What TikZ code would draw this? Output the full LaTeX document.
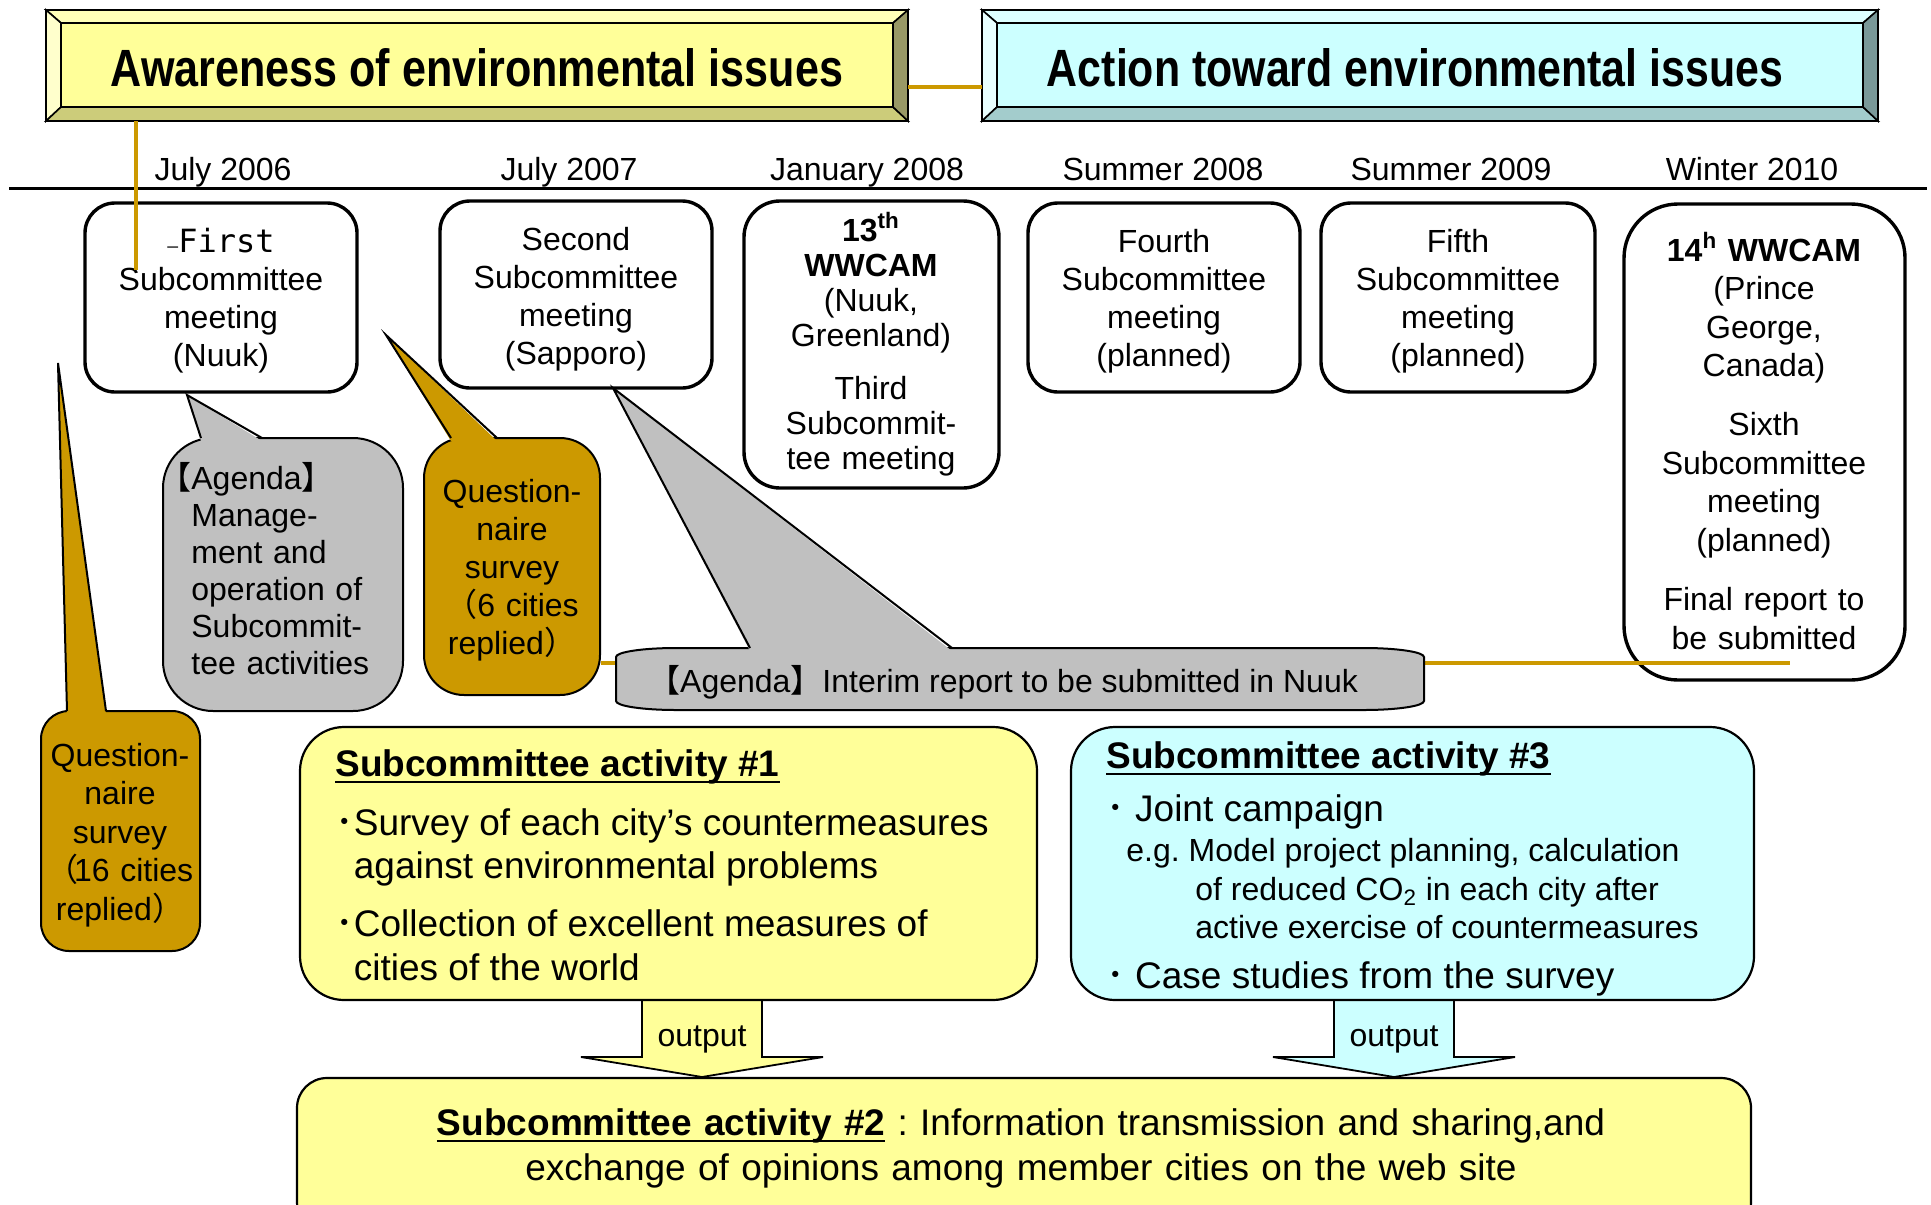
\documentclass[tikz,border=0pt]{standalone}
\usepackage{graphicx}
\usepackage{fontspec}
\setmainfont{Liberation Sans}
\newfontfamily\cjk{Noto Sans CJK JP}
\newfontfamily\monof{DejaVu Sans Mono}
\usetikzlibrary{fit,calc}
\frenchspacing

\definecolor{paleyellow}{HTML}{FFFF99}
\definecolor{palecyan}{HTML}{CCFFFF}
\definecolor{gold}{HTML}{CC9900}
\definecolor{lgray}{HTML}{C0C0C0}
\definecolor{ybevtop}{HTML}{FFFFB8}
\definecolor{ybevleft}{HTML}{FFFFCC}
\definecolor{ybevbot}{HTML}{CCCC7A}
\definecolor{ybevright}{HTML}{999966}
\definecolor{cbevtop}{HTML}{DDFFFF}
\definecolor{cbevleft}{HTML}{E8FFFF}
\definecolor{cbevbot}{HTML}{A3CCCC}
\definecolor{cbevright}{HTML}{7A9999}

\newcommand\fs[2]{\fontsize{#1}{#2}\selectfont}
\newsavebox\ulbox
\newcommand\undl[1]{\sbox\ulbox{#1}\rlap{\rule[-3.5pt]{\wd\ulbox}{1pt}}\usebox\ulbox}

\begin{document}
\begin{tikzpicture}[x=0.5pt,y=-0.5pt,
  tlbox/.style={draw, line width=1.7pt, rounded corners=15pt, fill=white, inner sep=0pt},
  ttext/.style={inner sep=0pt, anchor=base, align=center, text width=130pt, font=\fs{16}{19}},
  datelbl/.style={inner sep=0pt, anchor=base, font=\fs{16}{19}},
  bubble/.style={draw, line width=1pt, inner sep=0pt},
  tip/.style={line width=1pt, line join=miter},
  goldline/.style={draw=gold, line width=2pt},
  actbox/.style={draw, line width=1.1pt, inner sep=0pt, rounded corners=22pt},
  al/.style={inner sep=0pt, anchor=base west, font=\fs{18.5}{22}},
  smal/.style={inner sep=0pt, anchor=base west, font=\fs{16}{19}},
  blockarrow/.style={draw, line width=0.9pt, line join=miter},
  bev/.style={draw, line width=0.8pt, line join=miter}]

\useasboundingbox (0,0) rectangle (1931,1204);
\clip (0,0) rectangle (1931,1204);

% time axis
\draw[line width=1.5pt] (9,188) -- (1927,188);

% bevelled title panels
\node[inner sep=0pt, fit={(46,10) (908,121)}] (aw) {};
\filldraw[bev, fill=ybevtop]   (46,10) -- (908,10) -- (893,23) -- (61,23) -- cycle;
\filldraw[bev, fill=ybevleft]  (46,10) -- (61,23) -- (61,107) -- (46,121) -- cycle;
\filldraw[bev, fill=ybevbot]   (46,121) -- (61,107) -- (893,107) -- (908,121) -- cycle;
\filldraw[bev, fill=ybevright] (908,10) -- (908,121) -- (893,107) -- (893,23) -- cycle;
\filldraw[bev, fill=paleyellow] (61,23) rectangle (893,107);
\node[inner sep=0pt] (awt) at (477,68)
  {\resizebox{366pt}{19pt}{\bfseries Awareness of environmental issues}};

\node[inner sep=0pt, fit={(982,10) (1878,121)}] (ac) {};
\filldraw[bev, fill=cbevtop]   (982,10) -- (1878,10) -- (1863,23) -- (997,23) -- cycle;
\filldraw[bev, fill=cbevleft]  (982,10) -- (997,23) -- (997,107) -- (982,121) -- cycle;
\filldraw[bev, fill=cbevbot]   (982,121) -- (997,107) -- (1863,107) -- (1878,121) -- cycle;
\filldraw[bev, fill=cbevright] (1878,10) -- (1878,121) -- (1863,107) -- (1863,23) -- cycle;
\filldraw[bev, fill=palecyan] (997,23) rectangle (1863,107);
\node[inner sep=0pt] (act) at (1415,68)
  {\resizebox{368pt}{19pt}{\bfseries Action toward environmental issues}};

\coordinate (gy) at (945,87);
\draw[goldline] (aw.east |- gy) -- (ac.west |- gy);

% dates
\node[datelbl] (d1) at (223,180) {July 2006};
\node[datelbl] (d2) at (569,180) {July 2007};
\node[datelbl] (d3) at (867,180) {January 2008};
\node[datelbl] (d4) at (1163,180) {Summer 2008};
\node[datelbl] (d5) at (1451,180) {Summer 2009};
\node[datelbl] (d6) at (1752,180) {Winter 2010};

% meetings
\node[tlbox, fit={(85,203) (357,392)}] (b1) {};
\node[tlbox, fit={(440,201) (712,388)}] (b2) {};
\node[tlbox, rounded corners=18pt, fit={(744,201) (999,488)}] (b3) {};
\node[tlbox, fit={(1028,203) (1300,392)}] (b4) {};
\node[tlbox, fit={(1321,203) (1595,392)}] (b5) {};
\node[tlbox, rounded corners=27pt, fit={(1624,204) (1905,680)}] (b6) {};

\node[ttext] (b1t) at (221,252) {{\monof{\fs{9}{9}–}First}\\Subcommittee\\meeting\\(Nuuk)};
\node[ttext] (b2t) at (576,250) {Second\\Subcommittee\\meeting\\(Sapporo)};
\node[ttext, font=\fs{16}{17.5}] (b3t) at (871,241)
  {\textbf{13\textsuperscript{th}}\\\textbf{WWCAM}\\(Nuuk,\\Greenland)\\[9pt]Third\\Subcommit-\\tee meeting};
\node[ttext] (b4t) at (1164,252) {Fourth\\Subcommittee\\meeting\\(planned)};
\node[ttext] (b5t) at (1458,252) {Fifth\\Subcommittee\\meeting\\(planned)};
\node[ttext, font=\fs{16}{19.3}] (b6t) at (1764,261)
  {\textbf{14\textsuperscript{h} WWCAM}\\(Prince\\George,\\Canada)\\[10pt]Sixth\\Subcommittee\\meeting\\(planned)\\[10.5pt]Final report to\\be submitted};

\coordinate (g0) at (136,270);
\draw[goldline] (aw.south -| g0) -- (g0);

% agenda of the first meeting
\node[bubble, fill=lgray, rounded corners=25pt, fit={(163,438) (403,711)}] (qa) {};
\fill[lgray] (201,441) -- (187,395) -- (262,441) -- cycle;
\draw[tip] (201,438) -- (187,395) -- (262,438);
\node[inner sep=0pt, anchor=base west, align=left, text width=110pt, font=\fs{16}{18.5}] (qat) at (191,489)
  {\hspace*{-1em}{\cjk 【}Agenda{\cjk 】}\\Manage-\\ment and\\operation of\\Subcommit-\\tee activities};

% questionnaire, 16 cities
\node[bubble, fill=gold, rounded corners=14pt, fit={(41,711) (200,951)}] (qc) {};
\fill[gold] (67,714) -- (58,363) -- (106,714) -- cycle;
\draw[tip] (67,711) -- (58,363) -- (106,711);
\node[ttext, text width=78pt, font=\fs{16}{19.25}] (qct) at (120,766)
  {Question-\\naire\\survey\\{\cjk （}\kern-0.15em16 cities\\replied{\cjk ）}};

% questionnaire, 6 cities
\node[bubble, fill=gold, rounded corners=20pt, fit={(424,438) (600,695)}] (qb) {};
\fill[gold] (451,441) -- (386,335) -- (497,441) -- cycle;
\draw[tip] (451,438) -- (386,335) -- (497,438);
\node[ttext, text width=86pt] (qbt) at (512,502)
  {Question-\\naire\\survey\\{\cjk （}6 cities\\replied{\cjk ）}};

\coordinate (gl) at (1790,663);
\draw[goldline] (qb.east |- gl) -- (gl);

% agenda of the Nuuk meeting
\filldraw[bubble, fill=lgray] (616,657) .. controls (616,652) and (643,648) .. (676,648)
  -- (1364,648) .. controls (1397,648) and (1424,652) .. (1424,657)
  -- (1424,701) .. controls (1424,706) and (1397,710) .. (1364,710)
  -- (676,710) .. controls (643,710) and (616,706) .. (616,701) -- cycle;
\fill[lgray] (750,651) -- (613,388) -- (952,651) -- cycle;
\draw[tip] (750,648) -- (613,388) -- (952,648);
\node[datelbl] (agd) at (1003,692) {{\cjk 【}Agenda{\cjk 】}Interim report to be submitted in Nuuk};

% output arrows
\filldraw[blockarrow, fill=paleyellow] (642,999) -- (762,999) -- (762,1057) -- (823,1057)
  -- (702,1077) -- (581,1057) -- (642,1057) -- cycle;
\filldraw[blockarrow, fill=palecyan] (1334,999) -- (1454,999) -- (1454,1057) -- (1515,1057)
  -- (1394,1077) -- (1273,1057) -- (1334,1057) -- cycle;
\node[datelbl] (o1) at (702,1046) {output};
\node[datelbl] (o2) at (1394,1046) {output};

% activities
\node[actbox, fill=paleyellow, fit={(300,727) (1037,1000)}] (a1) {};
\node[al] (a1h) at (335,776) {\undl{\textbf{Subcommittee activity \#1}}};
\node[al] (a1l1) at (335,835) {{\cjk ･}Survey of each city’s countermeasures};
\node[al] (a1l2) at (353.5,878) {against environmental problems};
\node[al] (a1l3) at (335,936) {{\cjk ･}Collection of excellent measures of};
\node[al] (a1l4) at (353.5,980) {cities of the world};

\node[actbox, fill=palecyan, fit={(1071,727) (1754,1000)}] (a3) {};
\node[al] (a3h) at (1106,768) {\undl{\textbf{Subcommittee activity \#3}}};
\node[al] (a3l1) at (1106,821) {{\cjk ･} Joint campaign};
\node[smal] (a3l2) at (1126,861) {e.g. Model project planning, calculation};
\node[smal] (a3l3) at (1195,900) {of reduced CO\textsubscript{2} in each city after};
\node[smal] (a3l4) at (1195,938) {active exercise of countermeasures};
\node[al] (a3l5) at (1106,988) {{\cjk ･} Case studies from the survey};

\node[actbox, rounded corners=15pt, fill=paleyellow, fit={(297,1078) (1751,1232)}] (a2) {};
\node[inner sep=0pt, anchor=base, align=center, text width=700pt, font=\fs{18.5}{22.5}] (a2t) at (1021,1135)
  {\undl{\textbf{Subcommittee activity \#2}} : Information transmission and sharing,and\\exchange of opinions among member cities on the web site};

\end{tikzpicture}
\end{document}
